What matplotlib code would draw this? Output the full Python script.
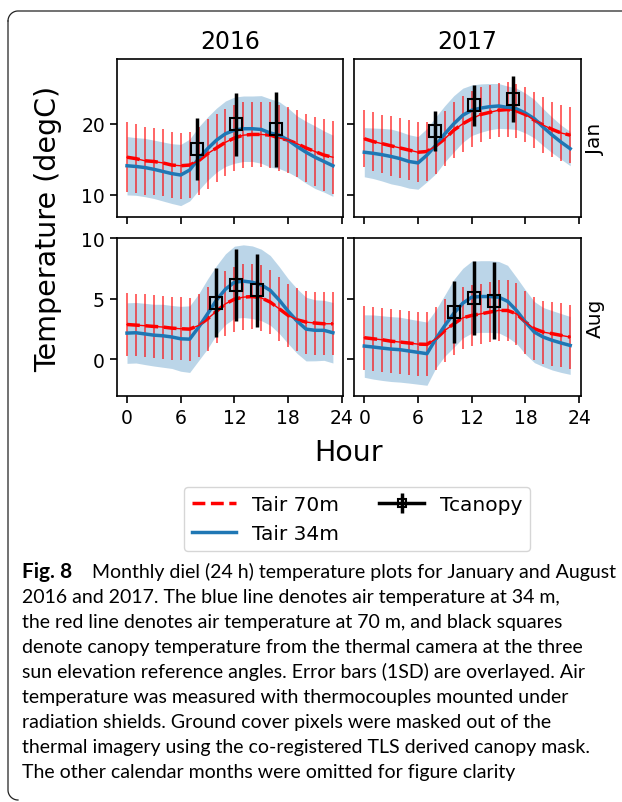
"""
Monthly diel temperature plots, Jan / Aug 2016-2017
"""

import numpy as np
import matplotlib
matplotlib.use('Agg')
import matplotlib.pyplot as plt
from matplotlib.lines import Line2D

#hours of the day
hours = np.arange(24)
years = ['2016', '2017']
months = ['Jan', 'Aug']

#Tair 34m (mean and SD)
jan16_t34 = [14.1, 14.0, 13.85, 13.6, 13.3, 13.0, 12.8, 13.5, 15.1, 16.5, 17.7, 18.6,
             19.1, 19.3, 19.3, 19.2, 18.7, 18.4, 17.7, 16.8, 16.0, 15.3, 14.7, 14.1]
jan16_t34_sd = [4.1, 4.05, 4.1, 4.1, 4.15, 4.2, 4.3, 4.35, 4.45, 4.45, 4.5, 4.6,
                4.65, 4.6, 4.6, 4.75, 4.8, 4.7, 4.5, 4.3, 4.35, 4.4, 4.3, 4.3]
jan17_t34 = [16.0, 15.85, 15.65, 15.4, 15.1, 14.7, 14.5, 15.6, 17.0, 18.6, 20.0, 21.2,
             21.9, 22.2, 22.4, 22.5, 22.3, 22.1, 21.5, 20.7, 19.5, 18.4, 17.4, 16.5]
jan17_t34_sd = [3.45, 3.55, 3.7, 3.85, 3.8, 3.75, 3.7, 3.75, 4.0, 3.95, 3.95, 3.8,
                3.55, 3.4, 3.25, 3.15, 3.0, 2.9, 2.8, 2.7, 2.6, 2.5, 2.4, 2.4]
aug16_t34 = [2.17, 2.2, 2.1, 2.0, 1.95, 1.85, 1.7, 1.67, 2.65, 3.76, 4.9, 5.8,
             6.37, 6.46, 6.37, 6.15, 5.7, 4.9, 3.98, 3.16, 2.5, 2.4, 2.4, 2.2]
aug16_t34_sd = [2.5, 2.5, 2.53, 2.55, 2.6, 2.6, 2.68, 2.75, 2.75, 2.88, 2.85, 2.92,
                2.98, 3.0, 3.0, 2.95, 2.88, 2.76, 2.68, 2.67, 2.63, 2.52, 2.48, 2.5]
aug17_t34 = [1.1, 1.02, 0.93, 0.85, 0.8, 0.69, 0.58, 0.47, 1.7, 2.8, 3.8, 4.64,
             5.14, 5.19, 5.19, 5.14, 4.8, 4.04, 3.08, 2.25, 1.84, 1.57, 1.35, 1.15]
aug17_t34_sd = [2.58, 2.65, 2.67, 2.68, 2.68, 2.65, 2.63, 2.61, 2.4, 2.53, 2.8, 2.88,
                2.97, 2.96, 2.96, 2.95, 2.97, 2.73, 2.65, 2.52, 2.44, 2.45, 2.43, 2.39]

#Tair 70m (mean and SD)
jan16_t70 = [15.3, 15.1, 14.8, 14.7, 14.5, 14.2, 14.1, 14.2, 14.8, 15.8, 16.6, 17.4,
             18.0, 18.4, 18.5, 18.5, 18.4, 18.0, 17.7, 17.2, 16.6, 16.1, 15.6, 15.3]
jan16_t70_sd = [4.9, 4.85, 4.8, 4.75, 4.7, 4.65, 4.65, 4.7, 4.8, 4.9, 4.8, 4.7,
                4.7, 4.6, 4.6, 4.6, 4.6, 4.6, 4.6, 4.7, 4.8, 4.9, 5.0, 5.1]
jan17_t70 = [17.9, 17.5, 17.2, 16.9, 16.6, 16.3, 16.0, 16.1, 16.9, 17.9, 19.1, 20.0,
             20.7, 21.3, 21.6, 21.9, 22.0, 21.8, 21.3, 20.5, 19.8, 19.2, 18.7, 18.4]
jan17_t70_sd = [4.0, 4.1, 4.1, 4.2, 4.2, 4.2, 4.2, 4.1, 4.0, 3.9, 3.9, 3.9,
                3.9, 3.8, 3.8, 3.8, 3.8, 3.8, 3.8, 3.9, 3.9, 3.9, 3.9, 3.9]
aug16_t70 = [2.88, 2.83, 2.78, 2.72, 2.67, 2.58, 2.53, 2.5, 2.8, 3.35, 3.98, 4.59,
             4.97, 5.14, 5.19, 5.08, 4.73, 4.18, 3.63, 3.27, 3.08, 3.0, 2.94, 2.94]
aug16_t70_sd = [2.57, 2.57, 2.58, 2.6, 2.6, 2.6, 2.6, 2.6, 2.6, 2.65, 2.65, 2.7,
                2.7, 2.7, 2.7, 2.7, 2.65, 2.65, 2.6, 2.6, 2.6, 2.6, 2.6, 2.6]
aug17_t70 = [1.79, 1.7, 1.62, 1.5, 1.43, 1.35, 1.26, 1.24, 1.7, 2.39, 2.94, 3.43,
             3.63, 3.76, 3.9, 4.04, 4.04, 3.76, 3.08, 2.53, 2.25, 2.12, 1.98, 1.84]
aug17_t70_sd = [2.65, 2.65, 2.65, 2.65, 2.65, 2.65, 2.65, 2.65, 2.6, 2.6, 2.55, 2.55,
                2.5, 2.5, 2.5, 2.5, 2.5, 2.55, 2.6, 2.6, 2.6, 2.65, 2.65, 2.65]

#Tcanopy at the three sun elevation angles
jan16_tc_hr = [7.8, 12.2, 16.6]
jan16_tc = [16.5, 19.9, 19.2]
jan16_tc_sd = [4.35, 4.45, 5.3]
jan17_tc_hr = [7.9, 12.2, 16.6]
jan17_tc = [19.0, 22.6, 23.5]
jan17_tc_sd = [2.85, 2.85, 3.2]
aug16_tc_hr = [9.9, 12.2, 14.5]
aug16_tc = [4.67, 6.15, 5.69]
aug16_tc_sd = [2.85, 3.0, 3.0]
aug17_tc_hr = [10.0, 12.2, 14.5]
aug17_tc = [3.9, 5.08, 4.86]
aug17_tc_sd = [2.55, 3.06, 3.15]

caption = [
    'Monthly diel (24 h) temperature plots for January and August',
    '2016 and 2017. The blue line denotes air temperature at 34 m,',
    'the red line denotes air temperature at 70 m, and black squares',
    'denote canopy temperature from the thermal camera at the three',
    'sun elevation reference angles. Error bars (1SD) are overlayed. Air',
    'temperature was measured with thermocouples mounted under',
    'radiation shields. Ground cover pixels were masked out of the',
    'thermal imagery using the co-registered TLS derived canopy mask.',
    'The other calendar months were omitted for figure clarity',
]

panels = [
    [(jan16_t34, jan16_t34_sd, jan16_t70, jan16_t70_sd, jan16_tc_hr, jan16_tc, jan16_tc_sd),
     (jan17_t34, jan17_t34_sd, jan17_t70, jan17_t70_sd, jan17_tc_hr, jan17_tc, jan17_tc_sd)],
    [(aug16_t34, aug16_t34_sd, aug16_t70, aug16_t70_sd, aug16_tc_hr, aug16_tc, aug16_tc_sd),
     (aug17_t34, aug17_t34_sd, aug17_t70, aug17_t70_sd, aug17_tc_hr, aug17_tc, aug17_tc_sd)],
]

W, H = 622, 803
fig = plt.figure(figsize=(W/100, H/100), dpi=100)

def px(x, y):
    #pixel (top-left origin) -> figure fraction
    return x/W, 1 - y/H

col_x = [116.7, 354.0]
col_w = 226.5
row_top = [60.0, 239.3]
row_h = 158.0
ylims = [(6.9, 29.1), (-3.05, 10.0)]
yticks = [[10, 20], [0, 5, 10]]

for r in range(2):
    for c in range(2):
        t34, t34_sd, t70, t70_sd, tc_hr, tc, tc_sd = panels[r][c]
        t34 = np.array(t34); t34_sd = np.array(t34_sd)
        x0, y0 = px(col_x[c], row_top[r] + row_h)
        ax = fig.add_axes([x0, y0, col_w/W, row_h/H])

        ax.fill_between(hours, t34 - t34_sd, t34 + t34_sd, color='tab:blue', alpha=0.3, lw=0)
        ax.errorbar(hours, t70, yerr=t70_sd, fmt='-', color='red', lw=1, elinewidth=1.2,
                    ecolor=(1, 0, 0, 0.7))
        l70, = ax.plot(hours, t70, '--', color='red', lw=2.5)
        l34, = ax.plot(hours, t34, '-', color='tab:blue', lw=2.5)
        ax.errorbar(tc_hr, tc, yerr=tc_sd, fmt='s', color='black', mfc='none', ms=8,
                    mew=1.5, elinewidth=2.5, zorder=5)
        #legend proxy for the canopy points (line + bar + square)
        eb = ax.errorbar([np.nan], [np.nan], yerr=[1], fmt='-s', color='black', mfc='none',
                         ms=6, mew=1.5, lw=2.5, elinewidth=2.5)

        ax.set_xlim(-1.15, 24.15)
        ax.set_xticks([0, 6, 12, 18, 24])
        ax.set_ylim(*ylims[r])
        ax.set_yticks(yticks[r])
        ax.tick_params(direction='out', length=5, width=1.2, labelsize=13.5)
        for s in ax.spines.values():
            s.set_linewidth(1.2)
        if r == 0:
            ax.set_xticklabels([])
            ax.set_title(years[c], fontsize=17, pad=8)
        if c == 1:
            ax.set_yticklabels([])
            ax.yaxis.set_label_position('right')
            ax.set_ylabel(months[r], fontsize=14.5, labelpad=4)

fig.text(*px(48, 228.5), 'Temperature (degC)', rotation=90, fontsize=20.5, ha='center', va='center')
fig.text(*px(348.6, 452.7), 'Hour', fontsize=20.5, ha='center', va='center')

fig.legend([l70, l34, eb], ['Tair 70m', 'Tair 34m', 'Tcanopy'], ncol=2, fontsize=14.5,
           loc='upper center', bbox_to_anchor=px(357, 478), columnspacing=2.0,
           handlelength=2.2)

#caption
fig.text(*px(22, 578), 'Fig. 8', fontsize=15, fontweight='bold', family='Lato', va='baseline')
for i, line in enumerate(caption):
    xs = 92 if i == 0 else 22
    fig.text(*px(xs, 578 + 25*i), line, fontsize=14, family='Lato', va='baseline')

#page frame: top and left edges with rounded corners, open to the right/bottom
rad = 10
ang = np.linspace(np.pi, np.pi/2, 20)
fx = list(8 + rad + rad*np.cos(ang)) + [W + 5]
fy = list(12 + rad - rad*np.sin(ang)) + [12]
ang2 = np.linspace(np.pi, 1.5*np.pi, 20)
gx = [8] + list(8 + rad + rad*np.cos(ang2))
gy = [12 + rad] + list(H - 2 - rad - rad*np.sin(ang2))
for xs_, ys_ in [(fx, fy), (gx, gy)]:
    fig.add_artist(Line2D(np.array(xs_)/W, 1 - np.array(ys_)/H, transform=fig.transFigure,
                          color='#222222', lw=0.9))

plt.savefig('out.png', dpi=100)
